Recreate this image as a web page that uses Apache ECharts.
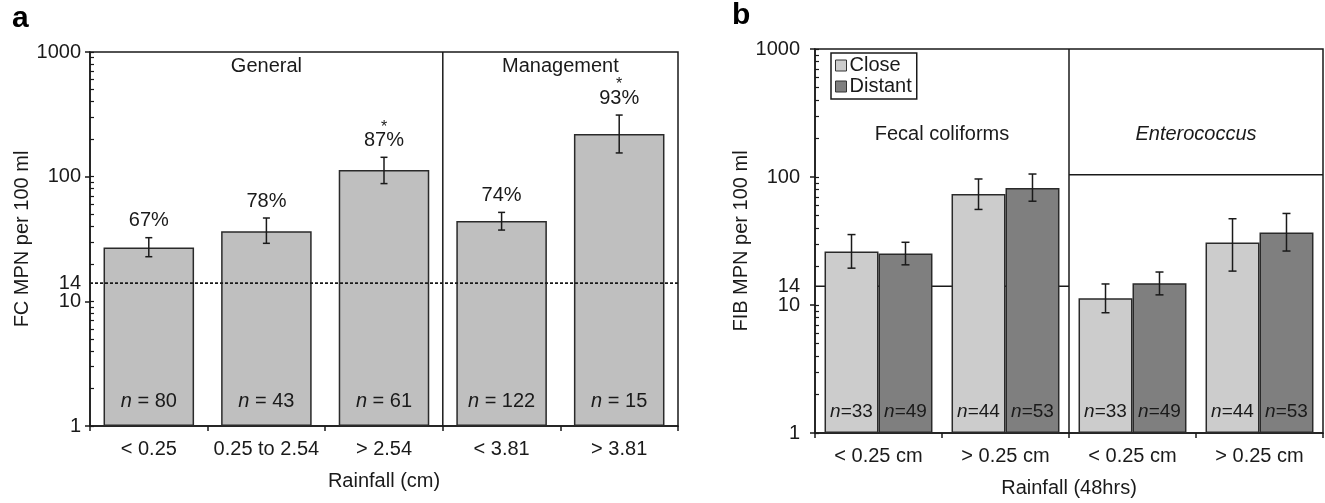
<!DOCTYPE html>
<html>
<head>
<meta charset="utf-8">
<script src="https://cdn.jsdelivr.net/npm/echarts@6/dist/echarts.min.js"></script>
<style>
html, body { margin: 0; padding: 0; background: #fff; }
#main { width: 1325px; height: 503px; }
</style>
</head>
<body>
<div id="main"></div>
<script>
// panel a: FC by rainfall
var catsA = ['< 0.25', '0.25 to 2.54', '> 2.54', '< 3.81', '> 3.81'];
var meanA = [27, 36.5, 113, 44, 220];
var lowA = [22.8, 29.2, 88, 37.3, 155];
var highA = [32.4, 46.6, 143, 51.7, 312];
var pctA = ['67%', '78%', '87%', '74%', '93%'];
var starA = ['', '', '*', '', '*'];
var nA = [80, 43, 61, 122, 15];
var groupsA = [['General', 0, 3], ['Management', 3, 5]];
var limitA = 14;

// panel b: close vs distant
var catsB = ['< 0.25 cm', '> 0.25 cm', '< 0.25 cm', '> 0.25 cm'];
var closeB = [26.2, 73.8, 11.3, 30.8];
var closeLowB = [19.4, 55.8, 8.7, 18.4];
var closeHighB = [35.5, 96.5, 14.6, 47.2];
var distB = [25.3, 82.2, 14.8, 36.8];
var distLowB = [20.6, 64.7, 12.0, 26.4];
var distHighB = [30.9, 105.5, 18.1, 51.9];
var nCloseB = [33, 44, 33, 44];
var nDistB = [49, 53, 49, 53];
var groupsB = [['Fecal coliforms', 0, 2, 14], ['Enterococcus', 2, 4, 104]];

// y axis ticks
var yLabels = [1, 10, 14, 100, 1000];
var majorTicks = [1, 10, 100, 1000];
var minorTicks = [2, 3, 4, 5, 6, 7, 8, 9, 20, 30, 40, 50, 60, 70, 80, 90, 200, 300, 400, 500, 600, 700, 800, 900];

var FONT = '"Liberation Sans", Arial, Helvetica, sans-serif';
var INK = '#1a1a1a';
var LINE = { color: INK, width: 1.5 };

var myChart = echarts.init(document.getElementById('main'));

function mainY(grid, margin, name, nameGap) {
    return {
        type: 'log', logBase: 10, min: 1, max: 1000, gridIndex: grid,
        axisLine: { show: true, lineStyle: LINE },
        axisTick: { show: true, inside: false, length: 5, customValues: majorTicks, lineStyle: LINE },
        axisLabel: {
            customValues: yLabels, margin: margin, color: INK, fontSize: 20, fontFamily: FONT,
            formatter: function (v) { return String(Math.round(v)); }
        },
        splitLine: { show: false },
        name: name, nameLocation: 'middle', nameGap: nameGap,
        nameTextStyle: { color: INK, fontSize: 20, fontFamily: FONT }
    };
}
function minorY(grid) {
    return {
        type: 'log', logBase: 10, min: 1, max: 1000, gridIndex: grid, position: 'left',
        axisLine: { show: false },
        axisTick: { show: true, inside: true, length: 4, customValues: majorTicks.concat(minorTicks), lineStyle: { color: INK, width: 1.2 } },
        axisLabel: { show: false },
        splitLine: { show: false }
    };
}
function catX(grid, data, name) {
    return {
        type: 'category', gridIndex: grid, data: data,
        axisLine: { lineStyle: LINE },
        axisTick: { show: true, length: 5, lineStyle: LINE },
        axisLabel: { interval: 0, margin: 13, color: INK, fontSize: 20, fontFamily: FONT },
        name: name, nameLocation: 'middle', nameGap: 45,
        nameTextStyle: { color: INK, fontSize: 20, fontFamily: FONT }
    };
}

// error bar whiskers (+ optional labels above)
function errBars(side, capW, labels, stars) {
    return function (params, api) {
        var i = params.dataIndex;
        var x = api.value(0);
        var hi = api.coord([x, api.value(2)]);
        var lo = api.coord([x, api.value(1)]);
        var dx = side ? side * api.size([1, 0])[0] * 0.85 / 4 : 0;
        var cx = hi[0] + dx;
        var st = { stroke: INK, lineWidth: 1.5 };
        var kids = [
            { type: 'line', shape: { x1: cx, y1: hi[1], x2: cx, y2: lo[1] }, style: st },
            { type: 'line', shape: { x1: cx - capW / 2, y1: hi[1], x2: cx + capW / 2, y2: hi[1] }, style: st },
            { type: 'line', shape: { x1: cx - capW / 2, y1: lo[1], x2: cx + capW / 2, y2: lo[1] }, style: st }
        ];
        if (labels) {
            kids.push({ type: 'text', style: { text: labels[i], x: cx, y: hi[1] - 7, align: 'center', verticalAlign: 'bottom',
                textAlign: 'center', textVerticalAlign: 'bottom', font: '20px ' + FONT, fill: INK } });
        }
        if (stars && stars[i]) {
            kids.push({ type: 'text', style: { text: stars[i], x: cx, y: hi[1] - 22, align: 'center', verticalAlign: 'bottom',
                textAlign: 'center', textVerticalAlign: 'bottom', font: '16px ' + FONT, fill: INK } });
        }
        return { type: 'group', children: kids };
    };
}
function errData(lows, highs) {
    return lows.map(function (v, i) { return [i, v, highs[i]]; });
}
function nLabel(counts, size, dist, sep) {
    return {
        show: true, position: 'insideBottom', distance: dist,
        formatter: function (p) { return '{i|n}' + sep + counts[p.dataIndex]; },
        color: INK, fontSize: size, fontFamily: FONT,
        rich: { i: { fontStyle: 'italic', fontSize: size, fontFamily: FONT, color: INK } }
    };
}
function segLine(xi, yi, pts, dashed, z) {
    return {
        type: 'line', xAxisIndex: xi, yAxisIndex: yi, data: pts, symbol: 'none', silent: true, z: z,
        lineStyle: { color: INK, width: dashed ? 1.6 : 1.5, type: dashed ? [3, 2] : 'solid' }
    };
}

var option = {
    animation: false,
    textStyle: { fontFamily: FONT },
    grid: [
        { left: 90, top: 52, width: 588, height: 374, show: true, borderColor: INK, borderWidth: 1.5 },
        { left: 815, top: 49, width: 508, height: 387, show: true, borderColor: INK, borderWidth: 1.5 }
    ],
    legend: {
        data: ['Close', 'Distant'], orient: 'vertical', left: 831, top: 53,
        itemWidth: 11, itemHeight: 11, itemGap: 0, icon: 'rect',
        padding: [2, 5, 2, 4], borderColor: INK, borderWidth: 1.5,
        itemStyle: { borderColor: '#333', borderWidth: 1 },
        textStyle: { color: INK, fontSize: 20, fontFamily: FONT, lineHeight: 21, padding: [0, 0, 0, -2] }
    },
    xAxis: [
        catX(0, catsA, 'Rainfall (cm)'),
        { type: 'value', gridIndex: 0, min: 0, max: catsA.length, show: false },
        catX(1, catsB, 'Rainfall (48hrs)'),
        { type: 'value', gridIndex: 1, min: 0, max: catsB.length, show: false }
    ],
    yAxis: [
        mainY(0, 9, 'FC MPN per 100 ml', 56),
        minorY(0),
        mainY(1, 15, 'FIB MPN per 100 ml', 61),
        minorY(1)
    ],
    series: [
        {
            type: 'bar', xAxisIndex: 0, yAxisIndex: 0, data: meanA, barCategoryGap: '23%', z: 2,
            itemStyle: { color: '#bfbfbf', borderColor: '#2a2a2a', borderWidth: 1.5 },
            label: nLabel(nA, 20, 15, ' = ')
        },
        { type: 'custom', xAxisIndex: 0, yAxisIndex: 0, data: errData(lowA, highA), z: 4,
          renderItem: errBars(0, 7, pctA, starA) },
        segLine(1, 0, [[groupsA[0][2], 1], [groupsA[0][2], 1000]], false, 3),
        segLine(1, 0, [[0, limitA], [catsA.length, limitA]], true, 5),

        {
            name: 'Close', type: 'bar', xAxisIndex: 2, yAxisIndex: 2, data: closeB,
            barCategoryGap: '15%', barGap: '0%', z: 3,
            itemStyle: { color: '#cccccc', borderColor: '#2a2a2a', borderWidth: 1.5 },
            label: nLabel(nCloseB, 19, 12, '=')
        },
        {
            name: 'Distant', type: 'bar', xAxisIndex: 2, yAxisIndex: 2, data: distB,
            barCategoryGap: '15%', barGap: '0%', z: 3,
            itemStyle: { color: '#7f7f7f', borderColor: '#2a2a2a', borderWidth: 1.5 },
            label: nLabel(nDistB, 19, 12, '=')
        },
        { type: 'custom', xAxisIndex: 2, yAxisIndex: 2, data: errData(closeLowB, closeHighB), z: 4,
          renderItem: errBars(-1, 8) },
        { type: 'custom', xAxisIndex: 2, yAxisIndex: 2, data: errData(distLowB, distHighB), z: 4,
          renderItem: errBars(1, 8) },
        segLine(3, 2, [[groupsB[0][1], groupsB[0][3]], [groupsB[0][2], groupsB[0][3]]], false, 1),
        segLine(3, 2, [[groupsB[1][1], groupsB[1][3]], [groupsB[1][2], groupsB[1][3]]], false, 1),
        segLine(3, 2, [[groupsB[1][1], 1], [groupsB[1][1], 1000]], false, 3)
    ]
};
myChart.setOption(option);

// panel letters and group headings
function headText(text, xi, yi, xv, dy, italic) {
    var p = myChart.convertToPixel({ xAxisIndex: xi, yAxisIndex: yi }, [xv, 1000]);
    return {
        type: 'text', x: p[0], y: p[1] + dy,
        style: { text: text, align: 'center', verticalAlign: 'middle', textAlign: 'center', textVerticalAlign: 'middle',
            font: (italic ? 'italic ' : '') + '20px ' + FONT, fill: INK }
    };
}
var g = [
    { type: 'text', left: 12, top: 4, style: { text: 'a', font: 'bold 30px ' + FONT, fill: '#000' } },
    { type: 'text', left: 732, top: 1, style: { text: 'b', font: 'bold 30px ' + FONT, fill: '#000' } }
];
groupsA.forEach(function (gr) { g.push(headText(gr[0], 1, 0, (gr[1] + gr[2]) / 2, 14, false)); });
groupsB.forEach(function (gr, k) { g.push(headText(gr[0], 3, 2, (gr[1] + gr[2]) / 2, 85, k === 1)); });
myChart.setOption({ graphic: g });
</script>
</body>
</html>
